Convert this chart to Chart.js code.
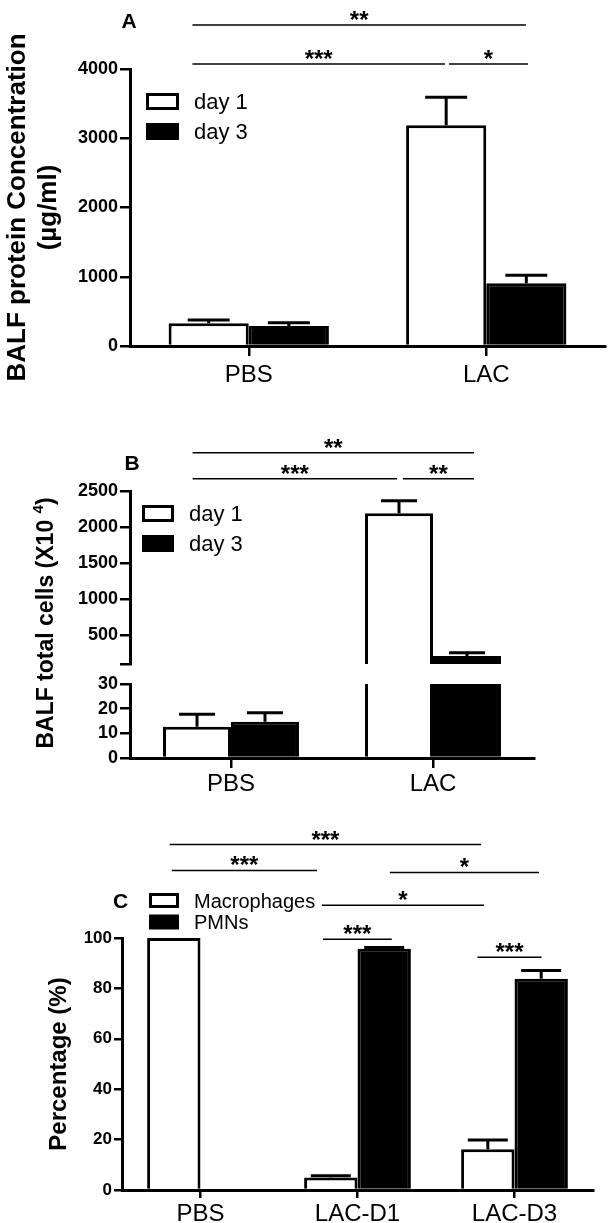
<!DOCTYPE html>
<html>
<head>
<meta charset="utf-8">
<title>BALF protein, cells and differential counts</title>
<script src="https://cdn.jsdelivr.net/npm/chart.js@4.4.0/dist/chart.umd.min.js"></script>
<style>
html, body { margin: 0; padding: 0; background: #fff; }
#fig { position: relative; width: 613px; height: 1223px; }
#fig canvas { position: absolute; left: 0; top: 0; }
</style>
</head>
<body>
<div id="fig">
    <canvas id="chartA" width="613" height="1223"></canvas>
    <canvas id="chartBTop" width="613" height="1223"></canvas>
    <canvas id="chartBLow" width="613" height="1223"></canvas>
    <canvas id="chartC" width="613" height="1223"></canvas>
</div>
<script>
// Panel A - BALF protein
var aLabels = ['PBS', 'LAC'];
var aDay1 = [330, 3187];
var aDay1Err = [45, 404];
var aDay3 = [290, 905];
var aDay3Err = [45, 116];
var aTicks = [0, 1000, 2000, 3000, 4000];
// [from category, to category, level, stars]
var aSig = [[-0.237, 1.167, 4635, '**'], [-0.237, 0.826, 4072, '***'], [0.843, 1.176, 4072, '*']];

// Panel B - total cells, broken axis
var bLabels = ['PBS', 'LAC'];
var bDay1 = [12.7, 2191];
var bDay1Err = [5.0, 174];
var bDay3 = [14.7, 211];
var bDay3Err = [3.6, 46];
var bTopTicks = [100, 500, 1000, 1500, 2000, 2500];
var bTopTickLabels = ['', '500', '1000', '1500', '2000', '2500'];
var bLowTicks = [0, 10, 20, 30];
var bSig = [[-0.19, 1.203, 3031, '**'], [-0.19, 0.822, 2671, '***'], [0.851, 1.203, 2671, '**']];

// Panel C - differential counts
var cLabels = ['PBS', 'LAC-D1', 'LAC-D3'];
var cMacro = [100, 5.0, 16.2];
var cMacroErr = [0, 0.7, 3.6];
var cPmn = [0, 95.7, 83.8];
var cPmnErr = [0, 0.5, 3.3];
var cTicks = [0, 20, 40, 60, 80, 100];
var cSig = [[-0.196, 1.787, 137.1, '***'], [-0.183, 0.742, 126.8, '***'], [1.206, 2.156, 126.0, '*'],
            [0.774, 1.806, 113.0, '*'], [0.780, 1.218, 99.5, '***'], [1.764, 2.172, 92.4, '***']];

var FONT = "'Liberation Sans', Arial, Helvetica, sans-serif";
var W = 613, H = 1223;

Chart.defaults.font.family = FONT;
Chart.defaults.color = '#000';
Chart.defaults.animation = false;
Chart.defaults.plugins.legend.display = false;
Chart.defaults.plugins.tooltip.enabled = false;

function bars(label, data, fill, pct) {
    return {
        label: label, data: data,
        backgroundColor: fill, borderColor: '#000', borderWidth: 3, borderSkipped: 'start',
        barPercentage: 1, categoryPercentage: pct, clip: 0
    };
}

function yAxis(min, max, ticks, width, size, tick, labels) {
    return {
        min: min, max: max,
        afterBuildTicks: function (s) { s.ticks = ticks.map(function (v) { return {value: v}; }); },
        afterFit: function (s) { s.width = width; },
        ticks: {
            font: {size: size, weight: 'bold'}, padding: 2, color: '#000',
            callback: function (v, i) { return labels ? labels[i] : String(v); }
        },
        grid: {drawOnChartArea: false, color: '#000', lineWidth: 2.5, tickLength: tick},
        border: {color: '#000', width: 3}
    };
}

function xAxis(height, tick, padding) {
    return {
        afterFit: function (s) { s.height = height; },
        ticks: {font: {size: 24}, padding: padding, color: '#000', maxRotation: 0},
        grid: {offset: false, drawOnChartArea: false, color: '#000', lineWidth: 2.5, tickLength: tick},
        border: {color: '#000', width: 3}
    };
}

// error whiskers, significance bars, legend and panel letter
function extras(cfg) {
    return {
        id: 'extras',
        afterDatasetsDraw: function (chart) {
            if (!cfg.errors) return;
            var ctx = chart.ctx, y = chart.scales.y;
            ctx.save();
            ctx.strokeStyle = '#000';
            ctx.lineWidth = 3;
            cfg.errors.forEach(function (errs, d) {
                var vals = chart.data.datasets[d].data;
                chart.getDatasetMeta(d).data.forEach(function (bar, i) {
                    var top = vals[i] + errs[i];
                    if (!errs[i] || vals[i] < y.min || top > y.max) return;
                    var py = y.getPixelForValue(top);
                    ctx.beginPath();
                    ctx.moveTo(bar.x, bar.y);
                    ctx.lineTo(bar.x, py);
                    ctx.moveTo(bar.x - cfg.cap / 2, py);
                    ctx.lineTo(bar.x + cfg.cap / 2, py);
                    ctx.stroke();
                });
            });
            ctx.restore();
        },
        afterDraw: function (chart) {
            var ctx = chart.ctx, x = chart.scales.x, y = chart.scales.y;
            ctx.save();
            ctx.fillStyle = '#000';
            ctx.strokeStyle = '#000';

            (cfg.sig || []).forEach(function (s) {
                var x1 = x.getPixelForValue(s[0]), x2 = x.getPixelForValue(s[1]), py = y.getPixelForValue(s[2]);
                ctx.lineWidth = 1.5;
                ctx.beginPath();
                ctx.moveTo(x1, py);
                ctx.lineTo(x2, py);
                ctx.stroke();
                ctx.font = 'bold 24px ' + FONT;
                ctx.textAlign = 'center';
                ctx.textBaseline = 'alphabetic';
                ctx.fillText(s[3], (x1 + x2) / 2, py + 3);
            });

            if (cfg.legend) {
                var L = cfg.legend;
                chart.data.datasets.forEach(function (ds, i) {
                    var by = L.y + i * L.step;
                    ctx.fillStyle = ds.backgroundColor;
                    ctx.fillRect(L.x, by, L.w, L.h);
                    ctx.lineWidth = 3;
                    ctx.strokeRect(L.x, by, L.w, L.h);
                    ctx.fillStyle = '#000';
                    ctx.font = L.size + 'px ' + FONT;
                    ctx.textAlign = 'left';
                    ctx.textBaseline = 'alphabetic';
                    ctx.fillText(ds.label, L.textX, by + L.h / 2 + 0.36 * L.size);
                });
            }

            if (cfg.letter) {
                ctx.font = 'bold 21px ' + FONT;
                ctx.textAlign = 'center';
                ctx.textBaseline = 'alphabetic';
                ctx.fillText(cfg.letter[0], cfg.letter[1], cfg.letter[2]);
            }

            if (cfg.title) {
                // rotated title with a raised exponent
                var T = cfg.title;
                var main = T.text[0], sup = T.text[1], tail = T.text[2];
                ctx.translate(T.x, T.y);
                ctx.rotate(-Math.PI / 2);
                ctx.textAlign = 'left';
                ctx.textBaseline = 'alphabetic';
                ctx.font = 'bold ' + T.size + 'px ' + FONT;
                var w1 = ctx.measureText(main).width, w3 = ctx.measureText(tail).width;
                ctx.font = 'bold ' + Math.round(T.size * 0.65) + 'px ' + FONT;
                var w2 = ctx.measureText(sup).width;
                var x0 = -(w1 + w2 + w3) / 2;
                ctx.font = 'bold ' + T.size + 'px ' + FONT;
                ctx.fillText(main, x0, 0);
                ctx.fillText(tail, x0 + w1 + w2, 0);
                ctx.font = 'bold ' + Math.round(T.size * 0.65) + 'px ' + FONT;
                ctx.fillText(sup, x0 + w1, -T.size * 0.42);
            }
            ctx.restore();
        }
    };
}

//Panel A
var yA = yAxis(0, 4000, aTicks, 130, 18, 10);
yA.title = {
    display: true, text: ['BALF protein Concentration', '(\u00b5g/ml)'], color: '#000',
    font: {size: 26, weight: 'bold', lineHeight: 1.2}, padding: {top: 2, bottom: 0}
};
new Chart(document.getElementById('chartA'), {
    type: 'bar',
    data: {labels: aLabels, datasets: [bars('day 1', aDay1, '#fff', 0.675), bars('day 3', aDay3, '#000', 0.675)]},
    options: {
        responsive: false,
        layout: {padding: {left: 0, top: 69, right: W - 605, bottom: H - 346 - 40}},
        scales: {x: xAxis(40, 10, 5), y: yA}
    },
    plugins: [extras({
        errors: [aDay1Err, aDay3Err], cap: 42, sig: aSig, letter: ['A', 129, 28],
        legend: {x: 147.5, y: 94.5, w: 30, h: 14, step: 30, textX: 194, size: 22}
    })]
});

//Panel B upper segment
var xBTop = xAxis(0, 10, 0);
xBTop.display = false;
new Chart(document.getElementById('chartBTop'), {
    type: 'bar',
    data: {labels: bLabels, datasets: [bars('day 1', bDay1, '#fff', 0.673), bars('day 3', bDay3, '#000', 0.673)]},
    options: {
        responsive: false,
        layout: {padding: {left: 0, top: 491, right: W - 534, bottom: H - 664}},
        scales: {x: xBTop, y: yAxis(100, 2500, bTopTicks, 130, 18, 10, bTopTickLabels)}
    },
    plugins: [extras({
        errors: [bDay1Err, bDay3Err], cap: 36, sig: bSig, letter: ['B', 132, 470],
        legend: {x: 143.5, y: 506.5, w: 29, h: 14, step: 30, textX: 189, size: 22},
        title: {text: ['BALF total cells (X10 ', '4', ')'], x: 53, y: 623, size: 23}
    })]
});

//Panel B lower segment
new Chart(document.getElementById('chartBLow'), {
    type: 'bar',
    data: {labels: bLabels, datasets: [bars('day 1', bDay1, '#fff', 0.673), bars('day 3', bDay3, '#000', 0.673)]},
    options: {
        responsive: false,
        layout: {padding: {left: 0, top: 684, right: W - 534, bottom: H - 758 - 40}},
        scales: {x: xAxis(40, 10, 2), y: yAxis(0, 30, bLowTicks, 130, 18, 10)}
    },
    plugins: [extras({errors: [bDay1Err, bDay3Err], cap: 36})]
});

//Panel C
var yC = yAxis(0, 100, cTicks, 122, 17, 8);
yC.title = {
    display: true, text: 'Percentage (%)', color: '#000',
    font: {size: 24, weight: 'bold', lineHeight: 1.2}, padding: {top: 45, bottom: 0}
};
new Chart(document.getElementById('chartC'), {
    type: 'bar',
    data: {labels: cLabels, datasets: [bars('Macrophages', cMacro, '#fff', 0.68), bars('PMNs', cPmn, '#000', 0.68)]},
    options: {
        responsive: false,
        layout: {padding: {left: 0, top: 938, right: W - 593, bottom: H - 1190 - 33}},
        scales: {x: xAxis(33, 8, 2), y: yC}
    },
    plugins: [extras({
        errors: [cMacroErr, cPmnErr], cap: 40, sig: cSig, letter: ['C', 120.5, 908],
        legend: {x: 150.5, y: 894.5, w: 27, h: 12, step: 21.5, textX: 194, size: 20}
    })]
});
</script>
</body>
</html>
